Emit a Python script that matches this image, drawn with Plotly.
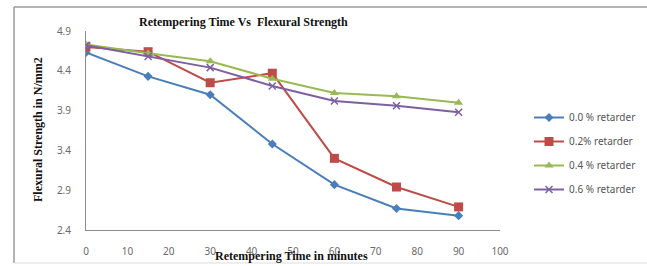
import plotly.graph_objects as go

time_min = [0, 15, 30, 45, 60, 75, 90]
series_names = ["0.0 % retarder", "0.2% retarder", "0.4 % retarder", "0.6 % retarder"]
s00 = [4.63, 4.33, 4.10, 3.48, 2.97, 2.67, 2.58]
s02 = [4.70, 4.64, 4.25, 4.37, 3.30, 2.94, 2.69]
s04 = [4.73, 4.62, 4.52, 4.30, 4.12, 4.08, 4.00]
s06 = [4.72, 4.58, 4.44, 4.21, 4.02, 3.96, 3.88]
x_ticks = [0, 10, 20, 30, 40, 50, 60, 70, 80, 90, 100]
y_ticks = [2.4, 2.9, 3.4, 3.9, 4.4, 4.9]

colors = ["#4A7EBB", "#BE4B48", "#98B954", "#7D60A0"]
symbols = ["diamond", "square", "triangle-up", "x-thin"]
sizes = [7, 9, 8, 7]

fig = go.Figure()
for i, (name, vals) in enumerate(zip(series_names, [s00, s02, s04, s06])):
    mk = dict(symbol=symbols[i], size=sizes[i], color=colors[i])
    if symbols[i] == "x-thin":
        mk["line"] = dict(color=colors[i], width=1.5)
    fig.add_trace(go.Scatter(
        x=time_min, y=vals, name=name, mode="lines+markers",
        line=dict(color=colors[i], width=2), marker=mk,
        legendgroup=str(i),
    ))

W, H = 647, 266
L, R, T, B = 86, 147, 31, 36
pw, ph = W - L - R, H - T - B

def px(xp):
    return (xp - L) / pw

def py(yp):
    return (H - B - yp) / ph

axis_font = dict(family="Noto Sans, DejaVu Sans, sans-serif", size=10, color="#6a6a6a")
serif_bold = dict(family="Liberation Serif, Times New Roman, serif", size=12, color="#111111")
frame = dict(color="#9a9a9a", width=1.5)

fig.update_layout(
    width=W, height=H,
    margin=dict(l=L, r=R, t=T, b=B, autoexpand=False),
    paper_bgcolor="white", plot_bgcolor="white",
    showlegend=True,
    legend=dict(
        xref="container", yref="container",
        x=529 / W, y=1 - 103 / H, xanchor="left", yanchor="top",
        font=dict(family="Noto Sans, DejaVu Sans, sans-serif", size=10, color="#555555"),
        itemwidth=30, tracegroupgap=5, traceorder="grouped",
        bgcolor="rgba(0,0,0,0)",
    ),
    xaxis=dict(
        range=[0, 100], tickvals=x_ticks, showgrid=False, zeroline=False,
        showline=True, linecolor="#8c8c8c", linewidth=1, ticks="",
        tickfont=axis_font, ticklabelstandoff=12, automargin=False,
    ),
    yaxis=dict(
        range=[2.4, 4.9], tickvals=y_ticks, tickformat=".1f", showgrid=False,
        zeroline=False, showline=True, linecolor="#8c8c8c", linewidth=1, ticks="",
        tickfont=axis_font, ticklabelstandoff=12, automargin=False,
    ),
    annotations=[
        dict(text="<b>Retempering Time Vs  Flexural Strength</b>", xref="paper", yref="paper",
             x=px(243), y=py(22), xanchor="center", yanchor="middle", showarrow=False, font=serif_bold),
        dict(text="<b>Retempering Time in minutes</b>", xref="paper", yref="paper",
             x=px(291), y=py(256), xanchor="center", yanchor="middle", showarrow=False, font=serif_bold),
        dict(text="<b>Flexural Strength in N/mm2</b>", xref="paper", yref="paper",
             x=px(38), y=py(130), xanchor="center", yanchor="middle", showarrow=False,
             textangle=-90, font=serif_bold),
    ],
    shapes=[
        dict(type="line", xref="paper", yref="paper", x0=px(14), x1=px(14), y0=py(263), y1=py(7),
             line=frame, layer="below"),
        dict(type="line", xref="paper", yref="paper", x0=px(14), x1=px(647), y0=py(7), y1=py(7),
             line=frame, layer="below"),
        dict(type="line", xref="paper", yref="paper", x0=px(14), x1=px(647), y0=py(263), y1=py(263),
             line=dict(color="#dddddd", width=1), layer="below"),
    ],
)

fig.write_html(
    "out.html",
    config={"displayModeBar": False},
    post_script="document.body.style.margin='0';document.body.style.overflow='hidden';",
)
